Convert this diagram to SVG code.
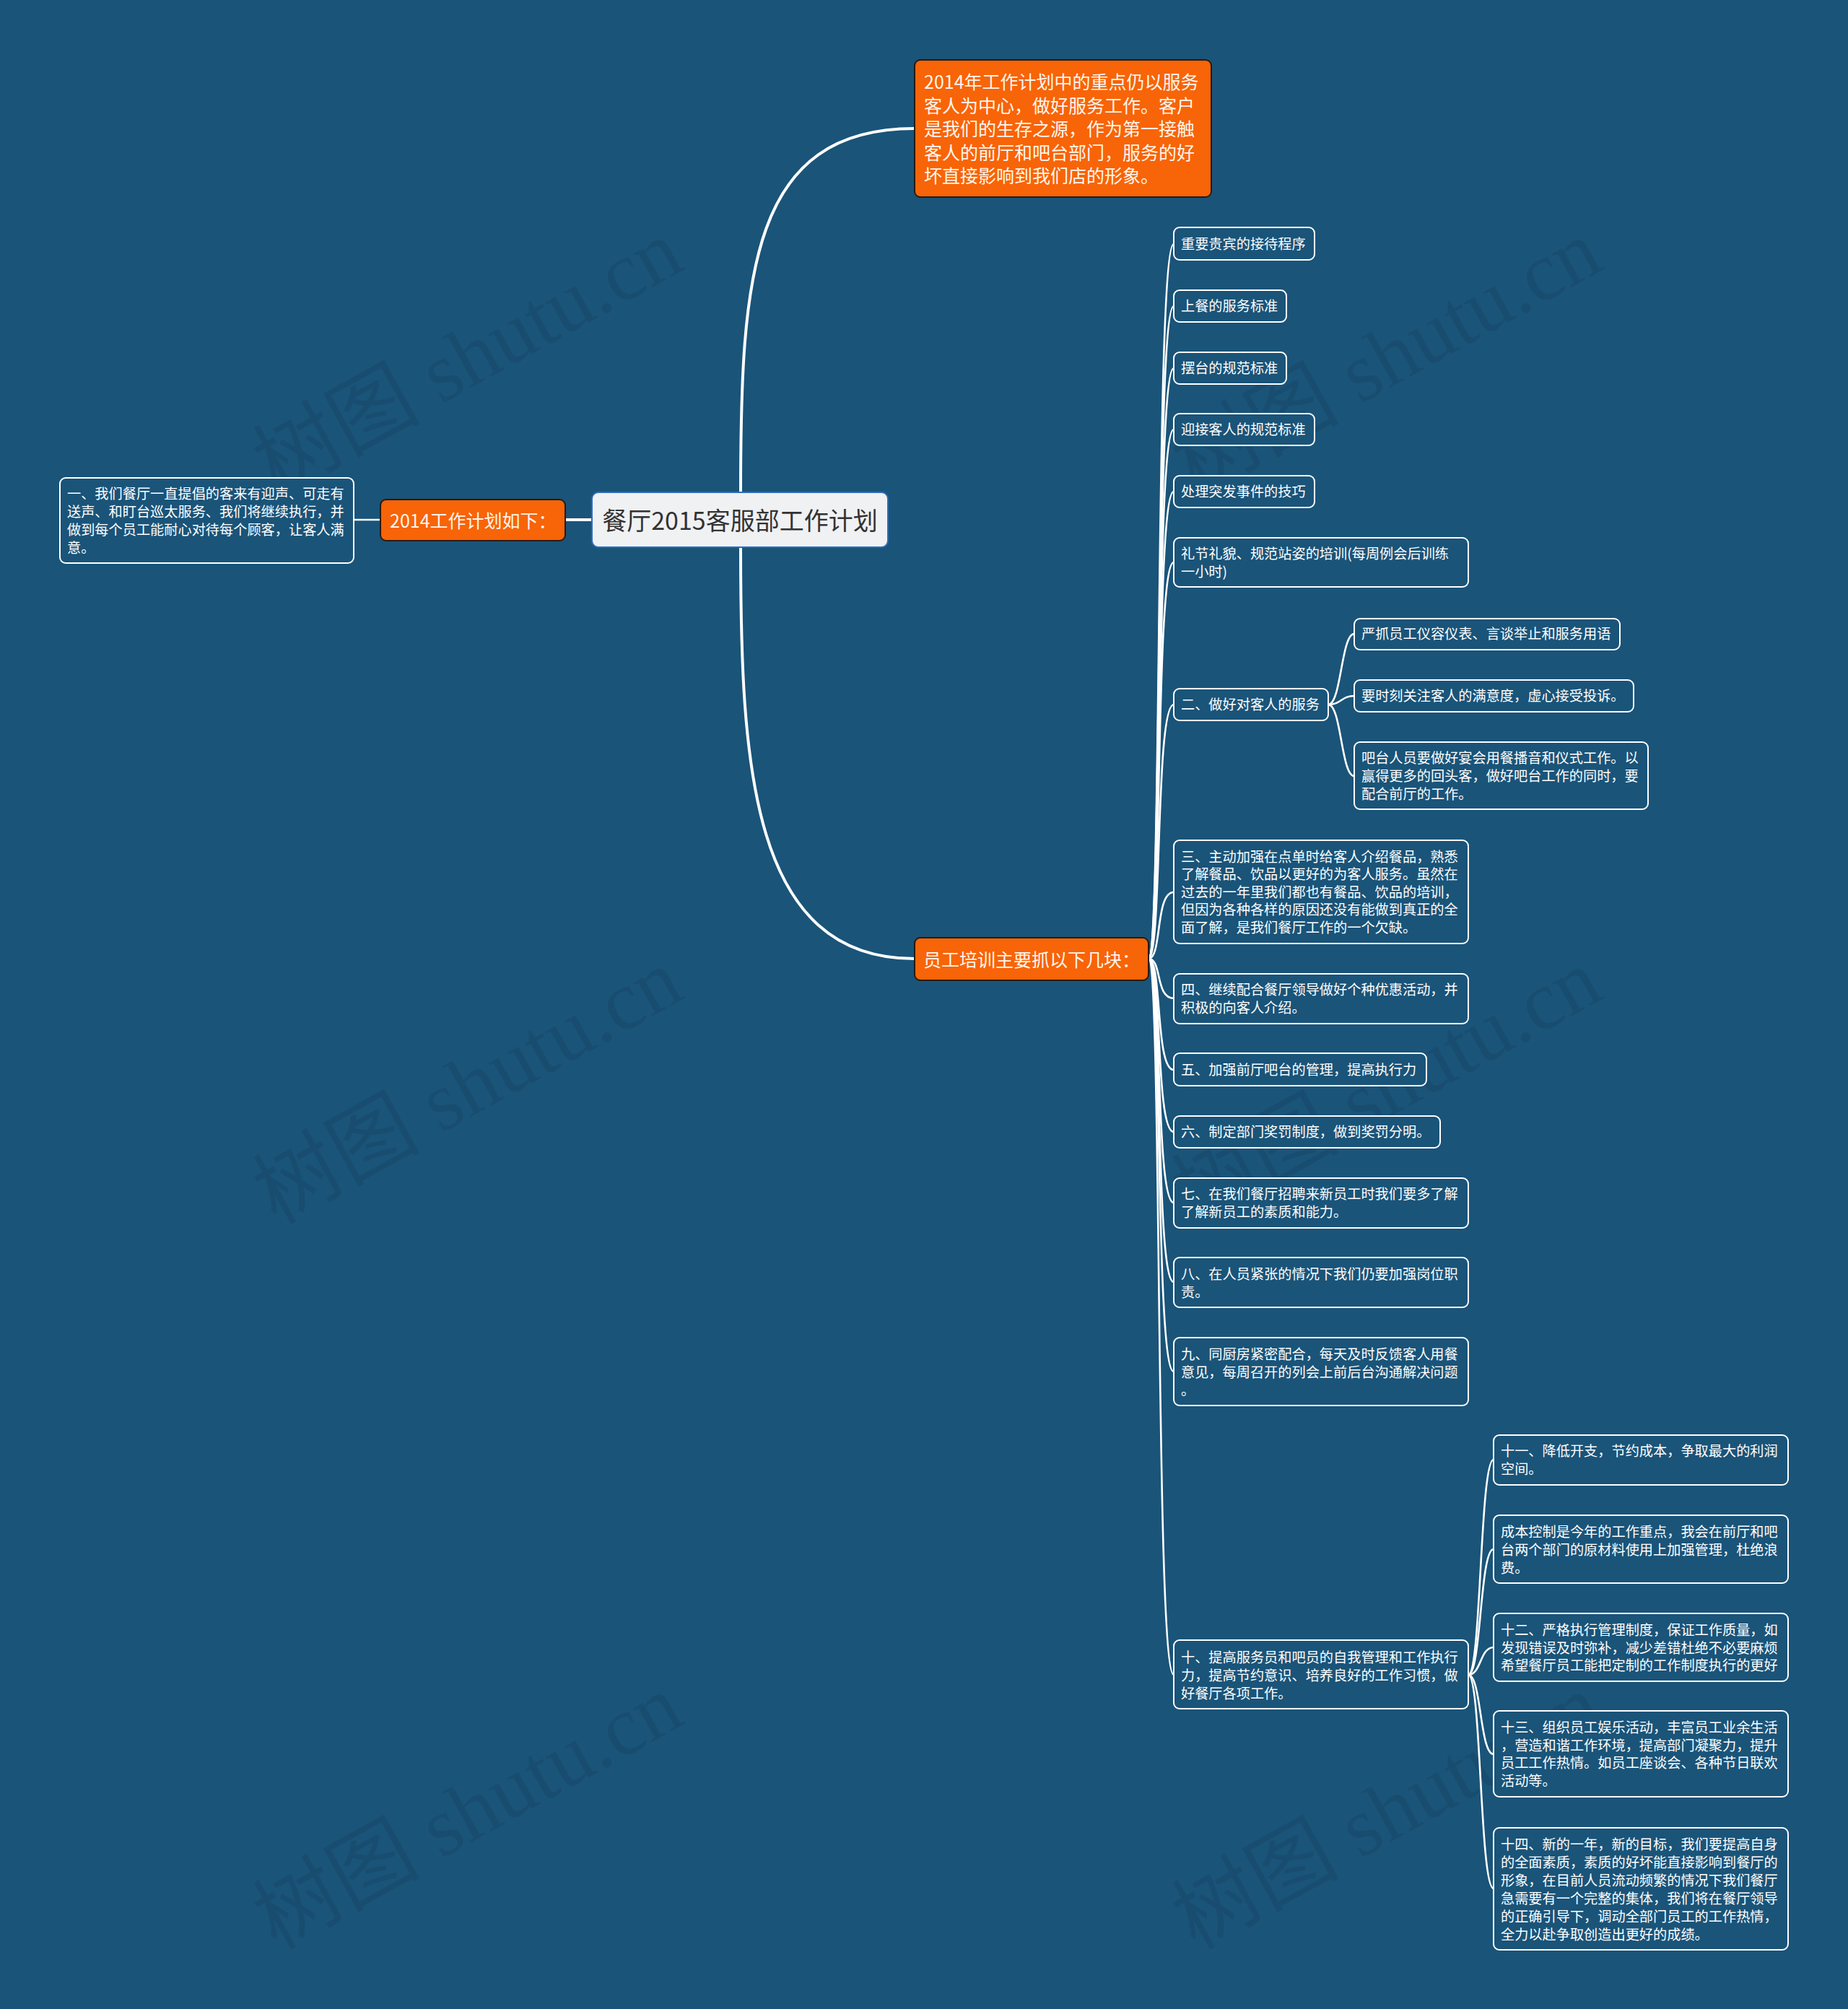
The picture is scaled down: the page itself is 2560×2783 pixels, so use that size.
<svg xmlns="http://www.w3.org/2000/svg" width="2560" height="2783" viewBox="0 0 2560 2783">
<style>
text{font-family:"Noto Sans CJK SC","Noto Sans",sans-serif;dominant-baseline:central}
.wm{font-family:"Liberation Serif","Noto Sans CJK SC",serif;font-size:116px;fill:#000;fill-opacity:0.075;text-anchor:middle}
.c1{fill:none;stroke:#fff;stroke-width:4;stroke-linecap:round}
.c2{fill:none;stroke:#fff;stroke-width:2.6;stroke-linecap:round}
.box{fill:#1a5479;stroke:#fff;stroke-width:2}
.org{fill:#f86408;stroke:#2a1a10;stroke-width:2}
.ot{font-size:25px;fill:#fff6ec}
.t{font-size:19.2px;fill:#fff}
</style>
<rect width="2560" height="2783" fill="#1a5479"/>
<g id="watermarks">
<text class="wm" transform="translate(648,495) rotate(-29)">树图 shutu.cn</text>
<text class="wm" transform="translate(1921,495) rotate(-29)">树图 shutu.cn</text>
<text class="wm" transform="translate(648,1505) rotate(-29)">树图 shutu.cn</text>
<text class="wm" transform="translate(1921,1505) rotate(-29)">树图 shutu.cn</text>
<text class="wm" transform="translate(648,2510) rotate(-29)">树图 shutu.cn</text>
<text class="wm" transform="translate(1921,2510) rotate(-29)">树图 shutu.cn</text>
</g>
<g id="connectors">
<path class="c1" d="M1026,682 C1026,380 1040,178 1267,178"/>
<path class="c1" d="M1026,758 C1026,1060 1040,1328 1267,1328"/>
<path class="c1" d="M820,720 L783,720"/>
<path class="c2" d="M527,720 L490,720"/>
<path class="c2" d="M1591,1328 C1610,1328 1600,338 1626,338"/>
<path class="c2" d="M1591,1328 C1610,1328 1600,424 1626,424"/>
<path class="c2" d="M1591,1328 C1610,1328 1600,510 1626,510"/>
<path class="c2" d="M1591,1328 C1610,1328 1600,595 1626,595"/>
<path class="c2" d="M1591,1328 C1610,1328 1600,681 1626,681"/>
<path class="c2" d="M1591,1328 C1610,1328 1600,779 1626,779"/>
<path class="c2" d="M1591,1328 C1610,1328 1600,976 1626,976"/>
<path class="c2" d="M1591,1328 C1610,1328 1600,1236 1626,1236"/>
<path class="c2" d="M1591,1328 C1610,1328 1600,1383 1626,1383"/>
<path class="c2" d="M1591,1328 C1610,1328 1600,1482 1626,1482"/>
<path class="c2" d="M1591,1328 C1610,1328 1600,1568 1626,1568"/>
<path class="c2" d="M1591,1328 C1610,1328 1600,1666 1626,1666"/>
<path class="c2" d="M1591,1328 C1610,1328 1600,1776 1626,1776"/>
<path class="c2" d="M1591,1328 C1610,1328 1600,1900 1626,1900"/>
<path class="c2" d="M1591,1328 C1610,1328 1600,2320 1626,2320"/>
<path class="c2" d="M1840,976 C1858,976 1858,878 1876,878"/>
<path class="c2" d="M1840,976 C1858,976 1858,964 1876,964"/>
<path class="c2" d="M1840,976 C1858,976 1858,1075 1876,1075"/>
<path class="c2" d="M2034,2320 C2052,2320 2050,2022 2069,2022"/>
<path class="c2" d="M2034,2320 C2052,2320 2050,2146 2069,2146"/>
<path class="c2" d="M2034,2320 C2052,2320 2050,2282 2069,2282"/>
<path class="c2" d="M2034,2320 C2052,2320 2050,2430 2069,2430"/>
<path class="c2" d="M2034,2320 C2052,2320 2050,2616 2069,2616"/>
</g>
<g id="root">
<rect x="820" y="682" width="410" height="76" rx="9" fill="#f0f1f3" stroke="#2d6db8" stroke-width="2"/>
<text x="1025" y="719" font-size="34" fill="#333" text-anchor="middle">餐厅2015客服部工作计划</text>
</g>
<g id="n-top">
<rect class="org" x="1267" y="83" width="411" height="190" rx="8"/>
<text class="ot" x="1280" y="112">2014年工作计划中的重点仍以服务</text>
<text class="ot" x="1280" y="145">客人为中心，做好服务工作。客户</text>
<text class="ot" x="1280" y="177">是我们的生存之源，作为第一接触</text>
<text class="ot" x="1280" y="210">客人的前厅和吧台部门，服务的好</text>
<text class="ot" x="1280" y="242">坏直接影响到我们店的形象。</text>
</g>
<g id="n-plan">
<rect class="org" x="527" y="692" width="256" height="57" rx="8"/>
<text class="ot" x="540" y="720">2014工作计划如下：</text>
</g>
<g id="n-one">
<rect class="box" x="83" y="662" width="407" height="118" rx="8"/>
<text class="t" x="93" y="683">一、我们餐厅一直提倡的客来有迎声、可走有</text>
<text class="t" x="93" y="708">送声、和盯台巡太服务、我们将继续执行，并</text>
<text class="t" x="93" y="733">做到每个员工能耐心对待每个顾客，让客人满</text>
<text class="t" x="93" y="758">意。</text>
</g>
<g id="n-train">
<rect class="org" x="1267" y="1299" width="324" height="59" rx="8"/>
<text class="ot" x="1279" y="1328">员工培训主要抓以下几块：</text>
</g>
<g id="n-a1">
<rect class="box" x="1626" y="315" width="195" height="45" rx="8"/>
<text class="t" x="1636" y="337">重要贵宾的接待程序</text>
</g>
<g id="n-a2">
<rect class="box" x="1626" y="402" width="156" height="44" rx="8"/>
<text class="t" x="1636" y="423">上餐的服务标准</text>
</g>
<g id="n-a3">
<rect class="box" x="1626" y="488" width="156" height="44" rx="8"/>
<text class="t" x="1636" y="509">摆台的规范标准</text>
</g>
<g id="n-a4">
<rect class="box" x="1626" y="573" width="195" height="44" rx="8"/>
<text class="t" x="1636" y="594">迎接客人的规范标准</text>
</g>
<g id="n-a5">
<rect class="box" x="1626" y="659" width="195" height="44" rx="8"/>
<text class="t" x="1636" y="680">处理突发事件的技巧</text>
</g>
<g id="n-a6">
<rect class="box" x="1626" y="745" width="408" height="68" rx="8"/>
<text class="t" x="1636" y="766">礼节礼貌、规范站姿的培训(每周例会后训练</text>
<text class="t" x="1636" y="791">一小时)</text>
</g>
<g id="n-two">
<rect class="box" x="1626" y="954" width="214" height="44" rx="8"/>
<text class="t" x="1636" y="975">二、做好对客人的服务</text>
</g>
<g id="n-two-a">
<rect class="box" x="1876" y="857" width="368" height="43" rx="8"/>
<text class="t" x="1886" y="877">严抓员工仪容仪表、言谈举止和服务用语</text>
</g>
<g id="n-two-b">
<rect class="box" x="1876" y="942" width="387" height="44" rx="8"/>
<text class="t" x="1886" y="963">要时刻关注客人的满意度，虚心接受投诉。</text>
</g>
<g id="n-two-c">
<rect class="box" x="1876" y="1028" width="407" height="93" rx="8"/>
<text class="t" x="1886" y="1049">吧台人员要做好宴会用餐播音和仪式工作。以</text>
<text class="t" x="1886" y="1074">赢得更多的回头客，做好吧台工作的同时，要</text>
<text class="t" x="1886" y="1099">配合前厅的工作。</text>
</g>
<g id="n-three">
<rect class="box" x="1626" y="1164" width="408" height="143" rx="8"/>
<text class="t" x="1636" y="1186">三、主动加强在点单时给客人介绍餐品，熟悉</text>
<text class="t" x="1636" y="1210">了解餐品、饮品以更好的为客人服务。虽然在</text>
<text class="t" x="1636" y="1235">过去的一年里我们都也有餐品、饮品的培训，</text>
<text class="t" x="1636" y="1259">但因为各种各样的原因还没有能做到真正的全</text>
<text class="t" x="1636" y="1284">面了解，是我们餐厅工作的一个欠缺。</text>
</g>
<g id="n-four">
<rect class="box" x="1626" y="1349" width="408" height="69" rx="8"/>
<text class="t" x="1636" y="1370">四、继续配合餐厅领导做好个种优惠活动，并</text>
<text class="t" x="1636" y="1395">积极的向客人介绍。</text>
</g>
<g id="n-five">
<rect class="box" x="1626" y="1459" width="350" height="45" rx="8"/>
<text class="t" x="1636" y="1481">五、加强前厅吧台的管理，提高执行力</text>
</g>
<g id="n-six">
<rect class="box" x="1626" y="1546" width="369" height="44" rx="8"/>
<text class="t" x="1636" y="1567">六、制定部门奖罚制度，做到奖罚分明。</text>
</g>
<g id="n-seven">
<rect class="box" x="1626" y="1632" width="408" height="69" rx="8"/>
<text class="t" x="1636" y="1653">七、在我们餐厅招聘来新员工时我们要多了解</text>
<text class="t" x="1636" y="1678">了解新员工的素质和能力。</text>
</g>
<g id="n-eight">
<rect class="box" x="1626" y="1742" width="408" height="69" rx="8"/>
<text class="t" x="1636" y="1764">八、在人员紧张的情况下我们仍要加强岗位职</text>
<text class="t" x="1636" y="1789">责。</text>
</g>
<g id="n-nine">
<rect class="box" x="1626" y="1853" width="408" height="94" rx="8"/>
<text class="t" x="1636" y="1875">九、同厨房紧密配合，每天及时反馈客人用餐</text>
<text class="t" x="1636" y="1900">意见，每周召开的列会上前后台沟通解决问题</text>
<text class="t" x="1636" y="1925">。</text>
</g>
<g id="n-ten">
<rect class="box" x="1626" y="2272" width="408" height="95" rx="8"/>
<text class="t" x="1636" y="2295">十、提高服务员和吧员的自我管理和工作执行</text>
<text class="t" x="1636" y="2320">力，提高节约意识、培养良好的工作习惯，做</text>
<text class="t" x="1636" y="2345">好餐厅各项工作。</text>
</g>
<g id="n-ten-a">
<rect class="box" x="2069" y="1988" width="408" height="69" rx="8"/>
<text class="t" x="2079" y="2009">十一、降低开支，节约成本，争取最大的利润</text>
<text class="t" x="2079" y="2034">空间。</text>
</g>
<g id="n-ten-b">
<rect class="box" x="2069" y="2099" width="408" height="94" rx="8"/>
<text class="t" x="2079" y="2121">成本控制是今年的工作重点，我会在前厅和吧</text>
<text class="t" x="2079" y="2146">台两个部门的原材料使用上加强管理，杜绝浪</text>
<text class="t" x="2079" y="2171">费。</text>
</g>
<g id="n-ten-c">
<rect class="box" x="2069" y="2235" width="408" height="94" rx="8"/>
<text class="t" x="2079" y="2257">十二、严格执行管理制度，保证工作质量，如</text>
<text class="t" x="2079" y="2282">发现错误及时弥补，减少差错杜绝不必要麻烦</text>
<text class="t" x="2079" y="2306">希望餐厅员工能把定制的工作制度执行的更好</text>
</g>
<g id="n-ten-d">
<rect class="box" x="2069" y="2370" width="408" height="119" rx="8"/>
<text class="t" x="2079" y="2392">十三、组织员工娱乐活动，丰富员工业余生活</text>
<text class="t" x="2079" y="2417">，营造和谐工作环境，提高部门凝聚力，提升</text>
<text class="t" x="2079" y="2441">员工工作热情。如员工座谈会、各种节日联欢</text>
<text class="t" x="2079" y="2466">活动等。</text>
</g>
<g id="n-ten-e">
<rect class="box" x="2069" y="2532" width="408" height="169" rx="8"/>
<text class="t" x="2079" y="2554">十四、新的一年，新的目标，我们要提高自身</text>
<text class="t" x="2079" y="2579">的全面素质，素质的好坏能直接影响到餐厅的</text>
<text class="t" x="2079" y="2604">形象，在目前人员流动频繁的情况下我们餐厅</text>
<text class="t" x="2079" y="2629">急需要有一个完整的集体，我们将在餐厅领导</text>
<text class="t" x="2079" y="2654">的正确引导下，调动全部门员工的工作热情，</text>
<text class="t" x="2079" y="2679">全力以赴争取创造出更好的成绩。</text>
</g>
</svg>
